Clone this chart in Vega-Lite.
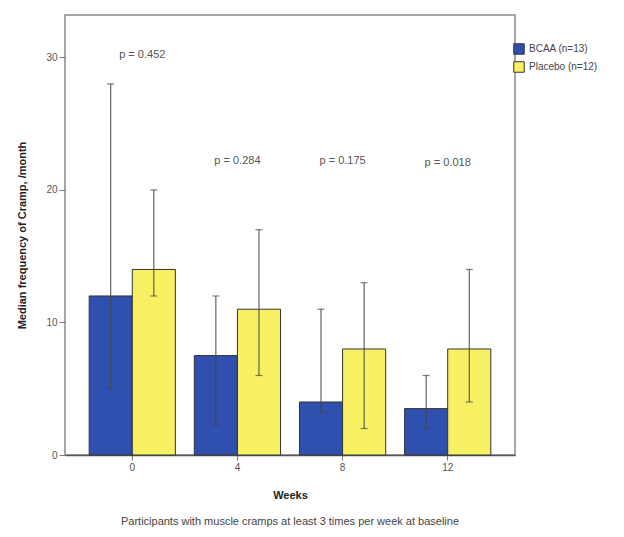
{
  "$schema": "https://vega.github.io/schema/vega-lite/v6.json",
  "width": 450,
  "height": 440,
  "autosize": "none",
  "padding": {"left": 65, "top": 15, "right": 109, "bottom": 82},
  "background": "white",
  "config": {
    "view": {"stroke": "#8a8a8a", "strokeWidth": 1.5},
    "font": "Liberation Sans",
    "axis": {"labelColor": "#555", "titleColor": "#222", "tickColor": "#777", "domainColor": "#555"}
  },
  "title": {
    "text": "Participants with muscle cramps at least 3 times per week at baseline",
    "orient": "bottom",
    "anchor": "middle",
    "fontSize": 11,
    "fontWeight": "normal",
    "color": "#444",
    "offset": 16
  },
  "datasets": {
    "bars": [
      {"week": "0", "group": "BCAA (n=13)", "median": 12, "lo": 5, "hi": 28},
      {"week": "0", "group": "Placebo (n=12)", "median": 14, "lo": 12, "hi": 20},
      {"week": "4", "group": "BCAA (n=13)", "median": 7.5, "lo": 2.3, "hi": 12},
      {"week": "4", "group": "Placebo (n=12)", "median": 11, "lo": 6, "hi": 17},
      {"week": "8", "group": "BCAA (n=13)", "median": 4, "lo": 3.2, "hi": 11},
      {"week": "8", "group": "Placebo (n=12)", "median": 8, "lo": 2, "hi": 13},
      {"week": "12", "group": "BCAA (n=13)", "median": 3.5, "lo": 2, "hi": 6},
      {"week": "12", "group": "Placebo (n=12)", "median": 8, "lo": 4, "hi": 14}
    ],
    "pv": [
      {"week": "0", "label": "p = 0.452", "y": 30.2},
      {"week": "4", "label": "p = 0.284", "y": 22.2},
      {"week": "8", "label": "p = 0.175", "y": 22.2},
      {"week": "12", "label": "p = 0.018", "y": 22.0}
    ]
  },
  "layer": [
    {
      "data": {"name": "bars"},
      "mark": {"type": "bar", "stroke": "#333", "strokeWidth": 1},
      "encoding": {
        "x": {
          "field": "week", "type": "ordinal", "sort": ["0", "4", "8", "12"],
          "scale": {"paddingInner": 0.18, "paddingOuter": 0.23},
          "axis": {"title": "Weeks", "labelAngle": 0, "labelFontSize": 10, "titleFontSize": 11, "titleFontWeight": "bold", "titlePadding": 17, "tickSize": 5, "domainWidth": 1.5}
        },
        "xOffset": {"field": "group", "type": "nominal", "scale": {"paddingInner": 0, "paddingOuter": 0}},
        "y": {
          "field": "median", "type": "quantitative",
          "scale": {"domain": [0, 33.2], "nice": false},
          "axis": {"title": "Median frequency of Cramp, /month", "values": [0, 10, 20, 30], "grid": false, "labelFontSize": 10, "titleFontSize": 11, "titleFontWeight": "bold", "titlePadding": 18, "tickSize": 6, "domain": false}
        },
        "color": {
          "field": "group", "type": "nominal",
          "scale": {"domain": ["BCAA (n=13)", "Placebo (n=12)"], "range": ["#3050b0", "#f8f063"]},
          "legend": {"title": null, "orient": "none", "legendX": 448, "legendY": 28, "symbolType": "square", "symbolSize": 110, "symbolStrokeColor": "#333", "symbolStrokeWidth": 1, "labelFontSize": 10, "labelColor": "#444", "rowPadding": 2}
        }
      }
    },
    {
      "data": {"name": "bars"},
      "mark": {"type": "rule", "color": "#444", "strokeWidth": 1},
      "encoding": {
        "x": {"field": "week", "type": "ordinal", "sort": ["0", "4", "8", "12"]},
        "xOffset": {"field": "group", "type": "nominal"},
        "y": {"field": "lo", "type": "quantitative"},
        "y2": {"field": "hi"}
      }
    },
    {
      "data": {"name": "bars"},
      "mark": {"type": "tick", "color": "#444", "orient": "horizontal", "size": 7, "thickness": 1.2},
      "encoding": {
        "x": {"field": "week", "type": "ordinal", "sort": ["0", "4", "8", "12"]},
        "xOffset": {"field": "group", "type": "nominal"},
        "y": {"field": "hi", "type": "quantitative"}
      }
    },
    {
      "data": {"name": "bars"},
      "mark": {"type": "tick", "color": "#444", "orient": "horizontal", "size": 7, "thickness": 1.2},
      "encoding": {
        "x": {"field": "week", "type": "ordinal", "sort": ["0", "4", "8", "12"]},
        "xOffset": {"field": "group", "type": "nominal"},
        "y": {"field": "lo", "type": "quantitative"}
      }
    },
    {
      "data": {"name": "pv"},
      "transform": [{"filter": "datum.week !== '0'"}],
      "mark": {"type": "text", "fontSize": 11, "color": "#555", "baseline": "middle", "align": "center"},
      "encoding": {
        "x": {"field": "week", "type": "ordinal", "sort": ["0", "4", "8", "12"], "bandPosition": 0.5},
        "y": {"field": "y", "type": "quantitative"},
        "text": {"field": "label"}
      }
    },
    {
      "data": {"name": "pv"},
      "transform": [{"filter": "datum.week === '0'"}],
      "mark": {"type": "text", "fontSize": 11, "color": "#555", "baseline": "middle", "align": "center", "dx": 10},
      "encoding": {
        "x": {"field": "week", "type": "ordinal", "sort": ["0", "4", "8", "12"], "bandPosition": 0.5},
        "y": {"field": "y", "type": "quantitative"},
        "text": {"field": "label"}
      }
    }
  ]
}
